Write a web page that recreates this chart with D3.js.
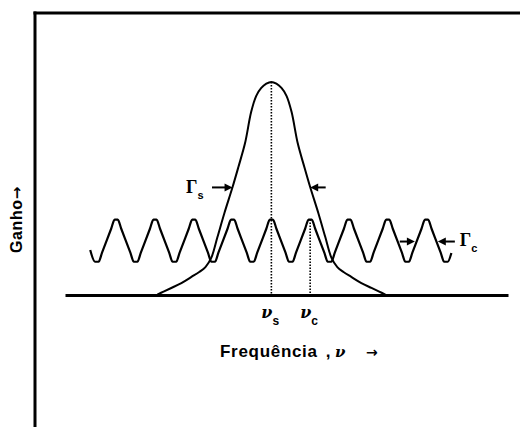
<!DOCTYPE html>
<html><head><meta charset="utf-8">
<script src="https://cdn.jsdelivr.net/npm/d3@7"></script>
<style>body{margin:0;background:#fff}svg{display:block}</style>
</head><body><svg id="c" width="520" height="427"></svg>
<script>
// ---- data (frequency in units of mode spacing, gain relative to peak) ----
const gainFreq = [-2.94,-2.78,-2.58,-2.32,-2.06,-1.86,-1.70,-1.55,-1.39,-1.21,-1.00,-0.85,-0.68,-0.52,-0.39,-0.26,-0.13,0,
                  0.13,0.26,0.39,0.52,0.68,0.85,1.00,1.21,1.39,1.55,1.70,1.86,2.06,2.32,2.58,2.78,2.94];
const gainVal  = [0.002,0.016,0.033,0.056,0.085,0.108,0.131,0.174,0.272,0.385,0.507,0.601,0.712,0.86,0.935,0.972,0.992,1.0,
                  0.992,0.972,0.935,0.86,0.712,0.601,0.507,0.385,0.272,0.174,0.131,0.108,0.085,0.056,0.033,0.016,0.002];
const modePeaks   = [-4,-3,-2,-1,0,1,2,3,4];
const modeValleys = [-4.5,-3.5,-2.5,-1.5,-0.5,0.5,1.5,2.5,3.5,4.5];
const modeTop = 0.354, modeBottom = 0.156;
const combStart = [-4.67, 0.211], combEnd = [4.64, 0.197];
const tickValues = [0, 1];
const tickSubs = ["s", "c"];
const gammaS = {level: 0.505, inner: [-1.0, 1.0], outer: [-1.53, 1.40]};
const gammaC = {level: 0.251, inner: [3.70, 4.29], outer: [3.31, 4.73]};

const svg = d3.select("#c");
const x = d3.scaleLinear().domain([-5.32, 6.10]).range([65, 508]);
const y = d3.scaleLinear().domain([0, 1]).range([295, 82]);

// frame
svg.append("line").attr("x1",33.5).attr("y1",13).attr("x2",520).attr("y2",13).attr("stroke","#000").attr("stroke-width",3);
svg.append("line").attr("x1",35).attr("y1",11.5).attr("x2",35).attr("y2",427).attr("stroke","#000").attr("stroke-width",3);

// x axis (baseline)
const ax = svg.append("g").attr("transform",`translate(0,${y(0)})`)
  .call(d3.axisBottom(x).tickValues([]).tickSizeOuter(0));
ax.select(".domain").attr("stroke","#000").attr("stroke-width",3);

// dotted verticals
svg.append("line").attr("x1",x(0)).attr("x2",x(0)).attr("y1",y(1)).attr("y2",y(0))
  .attr("stroke","#000").attr("stroke-width",1.6).attr("stroke-dasharray","1.5,1.5");
svg.append("line").attr("x1",x(1)).attr("x2",x(1)).attr("y1",y(modeTop)).attr("y2",y(0))
  .attr("stroke","#000").attr("stroke-width",1.6).attr("stroke-dasharray","1.5,1.5");

// gain curve
const gainPts = gainFreq.map((f,i)=>[f, gainVal[i]]);
svg.append("path").datum(gainPts)
  .attr("d", d3.line().x(d=>x(d[0])).y(d=>y(d[1])).curve(d3.curveCatmullRom.alpha(0.5)))
  .attr("fill","none").attr("stroke","#000").attr("stroke-width",2);

// cavity mode comb: straight flanks with slightly rounded tops/bottoms
const events = modeValleys.map(v=>({f:v, g:modeBottom, h:0.045}))
  .concat(modePeaks.map(p=>({f:p, g:modeTop, h:0.04})))
  .sort((a,b)=>a.f-b.f);
const corners = [combStart];
events.forEach(e=>{ corners.push([e.f-e.h, e.g]); corners.push([e.f+e.h, e.g]); });
corners.push(combEnd);
const comb = [];
const r = 0.09; // rounding distance along flank (units)
corners.forEach((p,i)=>{
  if (i>0) {
    const q = corners[i-1];
    const len = p[0]-q[0];
    if (len > 2.5*r) {
      const t1 = r/len, t2 = 1 - r/len;
      comb.push([q[0]+(p[0]-q[0])*t1, q[1]+(p[1]-q[1])*t1]);
      comb.push([q[0]+(p[0]-q[0])*t2, q[1]+(p[1]-q[1])*t2]);
    }
  }
  comb.push(p);
});
svg.append("path").datum(comb)
  .attr("d", d3.line().x(d=>x(d[0])).y(d=>y(d[1])).curve(d3.curveMonotoneX))
  .attr("fill","none").attr("stroke","#000").attr("stroke-width",2.2).attr("stroke-linejoin","round");

// arrows
function arrow(fOuter, fInner, g){
  const x1 = x(fOuter), x2 = x(fInner), yy = y(g);
  const dir = Math.sign(x2 - x1);
  svg.append("line").attr("x1",x1).attr("y1",yy).attr("x2",x2 - dir*6).attr("y2",yy)
    .attr("stroke","#000").attr("stroke-width",2);
  svg.append("path").attr("d",`M${x2},${yy}L${x2-dir*8},${yy-4}L${x2-dir*8},${yy+4}Z`).attr("fill","#000");
}
arrow(gammaS.outer[0], gammaS.inner[0], gammaS.level);
arrow(gammaS.outer[1], gammaS.inner[1], gammaS.level);
arrow(gammaC.outer[0], gammaC.inner[0], gammaC.level);
arrow(gammaC.outer[1], gammaC.inner[1], gammaC.level);

// Gamma labels
function gammaLabel(xx, yy, sub){
  const t = svg.append("text").attr("x",xx).attr("y",yy);
  t.append("tspan").text("Γ").attr("font-family","Liberation Serif").attr("font-weight","bold").attr("font-size",18);
  t.append("tspan").text(sub).attr("dx",0).attr("dy",6).attr("font-family","Liberation Sans").attr("font-weight","bold").attr("font-size",11);
}
gammaLabel(x(gammaS.outer[0]) - 26, y(gammaS.level) + 6, "s");
gammaLabel(x(gammaC.outer[1]) + 5, y(gammaC.level) + 4, "c");

// tick labels ν_s, ν_c
tickValues.forEach((v,i)=>{
  const t = svg.append("text").attr("x", x(v) - 10).attr("y", 318);
  t.append("tspan").text("ν").attr("font-family","DejaVu Serif").attr("font-style","italic").attr("font-weight","bold").attr("font-size",16);
  t.append("tspan").text(tickSubs[i]).attr("dx",0).attr("dy",7).attr("font-family","Liberation Sans").attr("font-weight","bold").attr("font-size",12);
});

// axis titles
const xt = svg.append("text").attr("x",220).attr("y",357).attr("font-family","Liberation Sans").attr("font-weight","bold").attr("font-size",17);
xt.append("tspan").text("Frequência").attr("letter-spacing",0.7);
xt.append("tspan").text(" ,").attr("x",321);
xt.append("tspan").text("ν").attr("x",335).attr("font-family","DejaVu Serif").attr("font-style","italic").attr("font-size",15);
xt.append("tspan").text("→").attr("x",366).attr("font-family","DejaVu Sans").attr("font-size",14);

const yt = svg.append("text").attr("transform","translate(22,253) rotate(-90)")
  .attr("font-family","Liberation Sans").attr("font-weight","bold").attr("font-size",16);
yt.append("tspan").text("Ganho").attr("letter-spacing",0.6);
yt.append("tspan").text("→").attr("font-family","DejaVu Sans").attr("font-size",15);
</script></body></html>
